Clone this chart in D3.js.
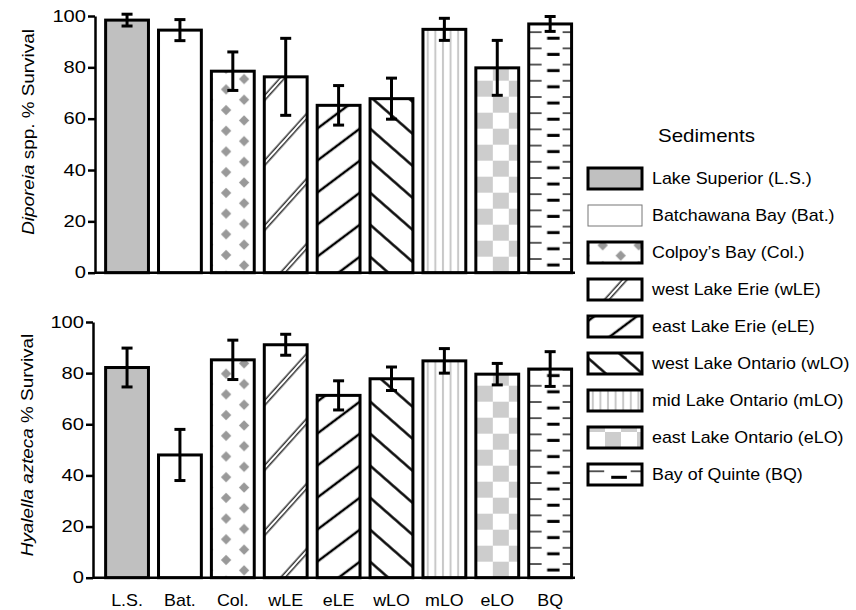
<!DOCTYPE html>
<html>
<head>
<meta charset="utf-8">
<script src="https://cdn.jsdelivr.net/npm/d3@7"></script>
<style>
  body { margin: 0; background: #fff; }
  svg { display: block; font-family: "Liberation Sans", Arial, sans-serif; }
</style>
</head>
<body>
<svg width="856" height="610"></svg>
<script>
// sediment sites (x categories) and legend names
var sites = ["L.S.", "Bat.", "Col.", "wLE", "eLE", "wLO", "mLO", "eLO", "BQ"];
var siteNames = ["Lake Superior (L.S.)", "Batchawana Bay (Bat.)", "Colpoy\u2019s Bay (Col.)",
    "west Lake Erie (wLE)", "east Lake Erie (eLE)", "west Lake Ontario (wLO)",
    "mid  Lake Ontario (mLO)", "east Lake Ontario (eLO)", "Bay of Quinte (BQ)"];

// % survival, mean and error bar half-length
var diporeiaMean = [98.4, 94.5, 78.5, 76.3, 65.2, 67.8, 94.8, 79.8, 96.9];
var diporeiaErr = [2.3, 4.1, 7.5, 15, 7.7, 8, 4.3, 10.7, 2.9];
var hyalellaMean = [82.2, 48, 85.2, 91.1, 71.3, 77.8, 84.8, 79.6, 81.6];
var hyalellaErr = [7.6, 10, 7.7, 4.1, 5.7, 4.6, 4.8, 4.2, 6.8];

var yTicks = [0, 20, 40, 60, 80, 100];

// fill style of each site
var fills = ["grey", "white", "diamond", "dbl", "fwd", "back", "vert", "check", "dash"];

window.onload = function() {
    makeChart();
}

// stretch text horizontally like the scanned figure
function stretch(sel, k) {
    sel.each(function() {
        var len = this.getComputedTextLength();
        d3.select(this).attr("textLength", len * k).attr("lengthAdjust", "spacingAndGlyphs");
    });
}

// build a pattern anchored at (ox, oy) and return the fill string
function makeFill(defs, id, type, ox, oy, w) {
    if (type == "grey") return "#c0c0c0";
    if (type == "white") return "#fff";

    var p = defs.append("pattern").attr("id", id).attr("patternUnits", "userSpaceOnUse");

    if (type == "diamond") {
        var pw = 36, ph = 20.7, r = 5.2;
        p.attr("width", pw).attr("height", ph).attr("x", ox + 14.7).attr("y", oy + 3);
        p.append("rect").attr("width", pw).attr("height", ph).attr("fill", "#fff");
        [[0, 0], [pw, 0], [0, ph], [pw, ph], [pw / 2, ph / 2]].forEach(function(c) {
            p.append("path")
                .attr("d", "M" + (c[0] - r) + "," + c[1] + "L" + c[0] + "," + (c[1] - r) +
                    "L" + (c[0] + r) + "," + c[1] + "L" + c[0] + "," + (c[1] + r) + "Z")
                .attr("fill", "#999");
        });
    } else if (type == "dbl") {
        p.attr("width", 200).attr("height", 43.5)
            .attr("patternTransform", "translate(" + ox + "," + (oy - 12) + ") rotate(-48)");
        p.append("rect").attr("width", 200).attr("height", 43.5).attr("fill", "#fff");
        [20, 23.5].forEach(function(y) {
            p.append("line").attr("x1", 0).attr("x2", 200).attr("y1", y).attr("y2", y)
                .attr("stroke", "#333").attr("stroke-width", 1.5);
        });
    } else if (type == "fwd") {
        p.attr("width", 200).attr("height", 25.6)
            .attr("patternTransform", "translate(" + ox + "," + oy + ") rotate(-36.9)");
        p.append("rect").attr("width", 200).attr("height", 25.6).attr("fill", "#fff");
        p.append("line").attr("x1", 0).attr("x2", 200).attr("y1", 12.8).attr("y2", 12.8)
            .attr("stroke", "#000").attr("stroke-width", 2.4);
    } else if (type == "back") {
        p.attr("width", 200).attr("height", 24.1)
            .attr("patternTransform", "translate(" + ox + "," + oy + ") rotate(41.2)");
        p.append("rect").attr("width", 200).attr("height", 24.1).attr("fill", "#fff");
        p.append("line").attr("x1", 0).attr("x2", 200).attr("y1", 12).attr("y2", 12)
            .attr("stroke", "#000").attr("stroke-width", 2.4);
    } else if (type == "vert") {
        p.attr("width", 7.6).attr("height", 10).attr("x", ox + 1).attr("y", 0);
        p.append("rect").attr("width", 7.6).attr("height", 10).attr("fill", "#fff");
        p.append("line").attr("x1", 3.8).attr("x2", 3.8).attr("y1", 0).attr("y2", 10)
            .attr("stroke", "#c8c8c8").attr("stroke-width", 2);
    } else if (type == "check") {
        p.attr("width", 32).attr("height", 32).attr("x", ox + 1).attr("y", oy);
        p.append("rect").attr("width", 32).attr("height", 32).attr("fill", "#fff");
        p.append("rect").attr("width", 16).attr("height", 16).attr("fill", "#cdcdcd");
        p.append("rect").attr("x", 16).attr("y", 16).attr("width", 16).attr("height", 16).attr("fill", "#cdcdcd");
    } else if (type == "dash") {
        // short dashes at both edges, a thicker one in the middle, alternating rows
        var h = 16.2;
        p.attr("width", w).attr("height", h).attr("x", ox).attr("y", oy + 1.5);
        p.append("rect").attr("width", w).attr("height", h).attr("fill", "#fff");
        p.append("line").attr("x1", 0).attr("x2", w * 0.3).attr("y1", 1).attr("y2", 1)
            .attr("stroke", "#333").attr("stroke-width", 1.6);
        p.append("line").attr("x1", w * 0.79).attr("x2", w).attr("y1", 1).attr("y2", 1)
            .attr("stroke", "#333").attr("stroke-width", 1.6);
        p.append("line").attr("x1", w * 0.43).attr("x2", w * 0.72).attr("y1", 7).attr("y2", 7)
            .attr("stroke", "#000").attr("stroke-width", 3);
    }
    return "url(#" + id + ")";
}

function makeChart() {

    var svg = d3.select("svg");
    var defs = svg.append("defs");

    var x = d3.scaleBand()
        .domain(sites)
        .range([100.6, 576.6])
        .paddingInner(0.19)
        .paddingOuter(0.095);

    // two stacked panels
    var panels = [
        { key: "top", axisX: 95, y0: 272.7, y100: 16, mean: diporeiaMean, err: diporeiaErr,
          titleY: 132, titleX: 34, italic: "Diporeia", rest: " spp. % Survival" },
        { key: "bot", axisX: 93, y0: 577.7, y100: 322, mean: hyalellaMean, err: hyalellaErr,
          titleY: 445, titleX: 33, italic: "Hyalella azteca", rest: " % Survival" }
    ];

    panels.forEach(function(pn, pi) {
        var y = d3.scaleLinear().domain([0, 100]).range([pn.y0, pn.y100]);
        var g = svg.append("g");

        // bars
        g.selectAll(".bar")
            .data(sites)
            .enter().append("rect")
            .attr("class", "bar")
            .attr("x", function(d) { return x(d); })
            .attr("y", function(d, i) { return y(pn.mean[i]); })
            .attr("width", x.bandwidth())
            .attr("height", function(d, i) { return y(0) - y(pn.mean[i]); })
            .attr("fill", function(d, i) {
                return makeFill(defs, "p-" + pn.key + "-" + i, fills[i], x(d), y(0), x.bandwidth());
            })
            .attr("stroke", "#000")
            .attr("stroke-width", 3);

        // error bars
        var eb = g.selectAll(".err")
            .data(sites)
            .enter().append("g")
            .attr("class", "err")
            .attr("stroke", "#000")
            .attr("stroke-width", 3);

        eb.append("line")
            .attr("x1", function(d) { return x(d) + x.bandwidth() / 2; })
            .attr("x2", function(d) { return x(d) + x.bandwidth() / 2; })
            .attr("y1", function(d, i) { return y(pn.mean[i] - pn.err[i]); })
            .attr("y2", function(d, i) { return y(pn.mean[i] + pn.err[i]); });

        [-1, 1].forEach(function(s) {
            eb.append("line")
                .attr("x1", function(d) { return x(d) + x.bandwidth() / 2 - 5.5; })
                .attr("x2", function(d) { return x(d) + x.bandwidth() / 2 + 5.5; })
                .attr("y1", function(d, i) { return y(pn.mean[i] + s * pn.err[i]); })
                .attr("y2", function(d, i) { return y(pn.mean[i] + s * pn.err[i]); });
        });

        // x baseline
        g.append("line")
            .attr("x1", pn.axisX).attr("x2", 575)
            .attr("y1", y(0)).attr("y2", y(0))
            .attr("stroke", "#000").attr("stroke-width", 2.5);

        // y axis
        var ya = g.append("g")
            .attr("transform", "translate(" + pn.axisX + ",0)")
            .call(d3.axisLeft(y).tickValues(yTicks).tickSize(7).tickSizeOuter(0).tickPadding(2));
        ya.selectAll("path, line").attr("stroke", "#000").attr("stroke-width", 2.5);
        ya.selectAll("text")
            .attr("fill", "#000")
            .style("font-size", "16.5px")
            .style("font-family", "'Liberation Sans', Arial, sans-serif");
        stretch(ya.selectAll("text"), 1.22);

        // y title with italic species name
        var t = g.append("text")
            .attr("transform", "translate(" + pn.titleX + "," + pn.titleY + ") rotate(-90)")
            .attr("text-anchor", "middle")
            .style("font-size", "16px");
        t.append("tspan").style("font-style", "italic").text(pn.italic);
        t.append("tspan").text(pn.rest);
        stretch(t, 1.18);

        // category labels only under the lower panel
        if (pi == 1) {
            var xa = g.append("g")
                .attr("transform", "translate(0," + y(0) + ")")
                .call(d3.axisBottom(x).tickSize(0).tickPadding(16));
            xa.select(".domain").remove();
            xa.selectAll("text")
                .attr("fill", "#000")
                .style("font-size", "17px")
                .style("font-family", "'Liberation Sans', Arial, sans-serif");
            stretch(xa.selectAll("text"), 1.05);
        }
    });

    // legend
    var lg = svg.append("g");
    var st = lg.append("text")
        .attr("x", 658).attr("y", 141.5)
        .style("font-size", "19px")
        .text("Sediments");
    stretch(st, 1.08);

    var rowY = function(i) { return 178.5 + i * 37; };

    lg.selectAll(".lbox")
        .data(siteNames)
        .enter().append("rect")
        .attr("class", "lbox")
        .attr("x", 588)
        .attr("y", function(d, i) { return rowY(i) - 10.5; })
        .attr("width", 54)
        .attr("height", 21)
        .attr("fill", function(d, i) {
            return makeFill(defs, "p-leg-" + i, fills[i], 588, rowY(i) + 10.5, 54);
        })
        .attr("stroke", function(d, i) { return i == 1 ? "#777" : "#000"; })
        .attr("stroke-width", function(d, i) { return i == 1 ? 1 : 3; });

    var lt = lg.selectAll(".ltext")
        .data(siteNames)
        .enter().append("text")
        .attr("class", "ltext")
        .attr("x", 652)
        .attr("y", function(d, i) { return rowY(i); })
        .attr("dy", "0.35em")
        .style("font-size", "17px")
        .text(function(d) { return d; });
    stretch(lt, 1.05);
}
</script>
</body>
</html>
